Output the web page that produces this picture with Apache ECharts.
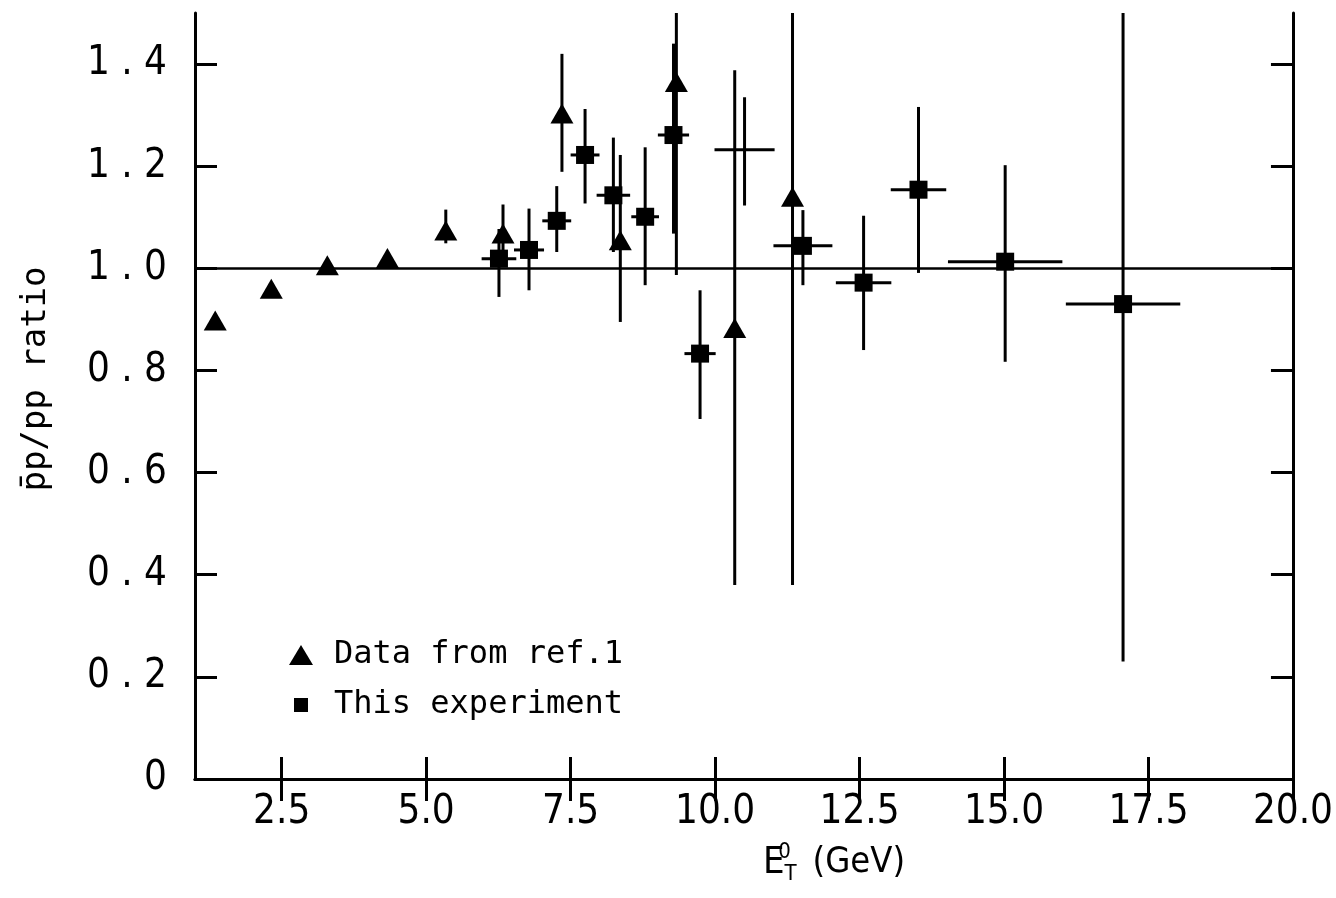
<!DOCTYPE html>
<html><head><meta charset="utf-8">
<script src="https://cdn.jsdelivr.net/npm/echarts@6/dist/echarts.min.js"></script>
<style>html,body{margin:0;padding:0;background:#fff}#c{width:1336px;height:898px}</style>
</head><body><div id="c"></div>
<script>
// ---- Data: "Data from ref.1" (triangles) ----
const refX    = [1.35, 2.32, 3.29, 4.33, 5.34, 6.33, 7.35, 8.36, 9.33, 10.34, 11.34];
const refY    = [0.898, 0.960, 1.006, 1.020, 1.074, 1.068, 1.303, 1.055, 1.365, 0.883, 1.140];
const refLow  = [null, null, null, null, 1.049, 1.010, 1.189, 0.895, 0.987, 0.380, 0.380];
const refHigh = [null, null, null, null, 1.115, 1.125, 1.420, 1.222, 1.500, 1.388, 1.500];

// ---- Data: "This experiment" (squares) ----
const expX    = [6.26, 6.78, 7.26, 7.75, 8.24, 8.79, 9.28, 9.74, 11.52, 12.57, 13.52, 15.02, 17.06];
const expY    = [1.019, 1.036, 1.093, 1.222, 1.143, 1.101, 1.261, 0.833, 1.044, 0.972, 1.154, 1.013, 0.930];
const expLow  = [0.944, 0.957, 1.032, 1.127, 1.032, 0.967, 1.068, 0.705, 0.967, 0.840, 0.991, 0.817, 0.230];
const expHigh = [1.077, 1.117, 1.161, 1.312, 1.256, 1.237, 1.440, 0.957, 1.114, 1.103, 1.316, 1.202, 1.500];
const expXErr = [0.30, 0.26, 0.25, 0.25, 0.29, 0.24, 0.27, 0.27, 0.51, 0.48, 0.48, 0.99, 0.99];

// ---- Data: point drawn with error cross only (no marker) ----
const crossX = [10.51];
const crossY = [1.232];
const crossLow = [1.123];
const crossHigh = [1.335];
const crossXErr = [0.52];

// ---- Axes ----
const xTicks = [2.5, 5, 7.5, 10, 12.5, 15, 17.5, 20];
const yTicks = [0, 0.2, 0.4, 0.6, 0.8, 1.0, 1.2, 1.4];
const unityRatio = 1.0;

const tickFont = "'Liberation Sans Narrow','DejaVu Sans Condensed','DejaVu Sans',sans-serif";
const monoFont = "'DejaVu Sans Mono','Liberation Mono',monospace";

function build(xs, ys, lo, hi, xe) {
  return xs.map((x, i) => [x, ys[i], lo[i] == null ? ys[i] : lo[i], hi[i] == null ? ys[i] : hi[i], xe ? xe[i] : 0]);
}

function errItem(params, api) {
  const x = api.value(0), y = api.value(1), lo = api.value(2), hi = api.value(3), xe = api.value(4);
  const children = [];
  const st = {stroke: '#000', lineWidth: 3};
  if (hi > lo) {
    const a = api.coord([x, lo]), b = api.coord([x, hi]);
    children.push({type: 'line', shape: {x1: a[0], y1: a[1], x2: b[0], y2: b[1]}, style: st});
  }
  if (xe > 0) {
    const a = api.coord([x - xe, y]), b = api.coord([x + xe, y]);
    children.push({type: 'line', shape: {x1: a[0], y1: a[1], x2: b[0], y2: b[1]}, style: st});
  }
  return {type: 'group', children};
}

const axisLineStyle = {color: '#000', width: 3};
const tickStyle = {color: '#000', width: 3};

const chart = echarts.init(document.getElementById('c'), null, {renderer: 'canvas'});
chart.setOption({
  backgroundColor: '#fff',
  animation: false,
  grid: {left: 195, right: 38, top: 13, bottom: 119, containLabel: false},
  xAxis: [{
    type: 'value', min: 1, max: 20, position: 'bottom',
    axisLine: {show: true, lineStyle: axisLineStyle},
    axisTick: {show: true, inside: true, length: 22, lineStyle: tickStyle, customValues: xTicks},
    axisLabel: {customValues: xTicks, formatter: v => v.toFixed(1), fontFamily: tickFont, fontSize: 40, color: '#000', margin: 14},
    splitLine: {show: false},
    name: '{e|E}{s|0}{t|T}{g|(GeV)}',
    nameLocation: 'middle', nameGap: 62,
    nameTextStyle: {
      padding: [0, 0, 0, 180],
      rich: {
        e: {fontFamily: tickFont, fontSize: 38, color: '#000', lineHeight: 44},
        s: {fontFamily: tickFont, fontSize: 22, color: '#000', width: 0, verticalAlign: 'top', lineHeight: 22},
        t: {fontFamily: tickFont, fontSize: 22, color: '#000', verticalAlign: 'bottom', lineHeight: 22, padding: [0, 16, 0, 0]},
        g: {fontFamily: tickFont, fontSize: 36, color: '#000', lineHeight: 44}
      }
    }
  }, {
    type: 'value', min: 1, max: 20, position: 'top',
    axisLine: {show: true, lineStyle: axisLineStyle},
    axisTick: {show: true, inside: true, length: 22, lineStyle: tickStyle, customValues: xTicks},
    axisLabel: {show: false}, splitLine: {show: false}
  }],
  yAxis: [{
    type: 'value', min: 0, max: 1.5, position: 'left',
    axisLine: {show: true, lineStyle: axisLineStyle},
    axisTick: {show: true, inside: true, length: 22, lineStyle: tickStyle, customValues: yTicks},
    axisLabel: {customValues: yTicks, formatter: v => v === 0 ? '0' : v.toFixed(1).split('').join(' '),
      fontFamily: tickFont, fontSize: 40, color: '#000', margin: 28},
    splitLine: {show: false},
    name: 'p\u0304p/pp ratio', nameLocation: 'middle', nameRotate: 90, nameGap: 142,
    nameTextStyle: {fontFamily: monoFont, fontSize: 34, color: '#000', padding: [0, 0, 0, 34]}
  }, {
    type: 'value', min: 0, max: 1.5, position: 'right',
    axisLine: {show: true, lineStyle: axisLineStyle},
    axisTick: {show: true, inside: true, length: 22, lineStyle: tickStyle, customValues: yTicks},
    axisLabel: {show: false}, splitLine: {show: false}
  }],
  legend: {
    orient: 'vertical', left: 284, top: 634, itemGap: 18, itemWidth: 24, itemHeight: 20,
    textStyle: {fontFamily: monoFont, fontSize: 32, color: '#000', padding: [0, 0, 0, 16]},
    data: [
      {name: 'Data from ref.1', icon: 'triangle', itemStyle: {color: '#000', opacity: 1}},
      {name: 'This experiment', icon: 'path://M0,0M24,20M5,3L19,3L19,17L5,17Z', itemStyle: {color: '#000', opacity: 1}}
    ],
    selectedMode: false
  },
  series: [
    {type: 'custom', name: 'refErr', renderItem: errItem, data: build(refX, refY, refLow, refHigh, null),
      encode: {x: 0, y: 1}, clip: true, silent: true, z: 2},
    {type: 'scatter', name: 'Data from ref.1', symbol: 'triangle', symbolSize: [23, 20],
      itemStyle: {color: '#000', opacity: 1}, data: refX.map((x, i) => [x, refY[i]]), z: 3},
    {type: 'custom', name: 'expErr', renderItem: errItem, data: build(expX, expY, expLow, expHigh, expXErr),
      encode: {x: 0, y: 1}, clip: true, silent: true, z: 2},
    {type: 'custom', name: 'crossErr', renderItem: errItem, data: build(crossX, crossY, crossLow, crossHigh, crossXErr),
      encode: {x: 0, y: 1}, clip: true, silent: true, z: 2},
    {type: 'scatter', name: 'This experiment', symbol: 'rect', symbolSize: 18,
      itemStyle: {color: '#000', opacity: 1}, data: expX.map((x, i) => [x, expY[i]]), z: 3,
      markLine: {silent: true, symbol: 'none', label: {show: false},
        lineStyle: {color: '#000', width: 2.5, type: 'solid', opacity: 1}, data: [{yAxis: unityRatio}]}}
  ]
});
</script></body></html>
